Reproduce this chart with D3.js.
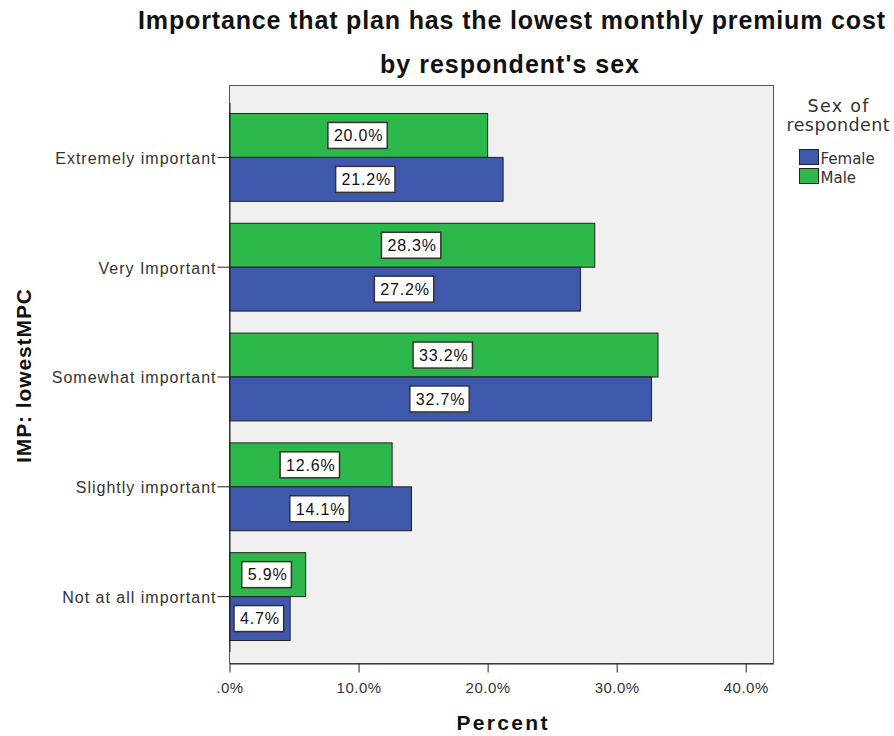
<!DOCTYPE html>
<html><head><meta charset="utf-8">
<script src="https://cdn.jsdelivr.net/npm/d3@7"></script>
<style>body{margin:0;background:#fff}</style>
</head><body>
<script>
const categories = ["Extremely important","Very Important","Somewhat important","Slightly important","Not at all important"];
const seriesNames = ["Male","Female"];
const maleValues = [20.0, 28.3, 33.2, 12.6, 5.9];
const femaleValues = [21.2, 27.2, 32.7, 14.1, 4.7];
const xTicks = [0, 10, 20, 30, 40];
const xTickLabels = [".0%","10.0%","20.0%","30.0%","40.0%"];
const legendItems = ["Female","Male"];

const W = 894, H = 736;
const FONT = "'Liberation Sans', Arial, sans-serif";
const LFONT = "'DejaVu Sans', Verdana, sans-serif";
const colors = {Female:"#3E58AC", Male:"#2DB84B"};
const svg = d3.select("body").append("svg").attr("width",W).attr("height",H)
  .style("font-family",FONT);

const L = 229.5, R = 773.5, T = 85.5, B = 663.5;
const x = d3.scaleLinear().domain([0, 42.15]).range([L, R]);
const y = d3.scaleBand().domain(categories).range([T+17, B-12]).paddingInner(0).paddingOuter(0);
const sub = d3.scaleBand().domain(seriesNames).range([0, y.bandwidth()]).paddingOuter(0.25).paddingInner(0);

svg.append("rect").attr("x",L).attr("y",T).attr("width",R-L).attr("height",B-T)
  .attr("fill","#F0F0F0").attr("stroke","#555").attr("stroke-width",1);

const data = [];
categories.forEach((c,i)=>{
  data.push({cat:c, s:"Male", v:maleValues[i]});
  data.push({cat:c, s:"Female", v:femaleValues[i]});
});

svg.append("g").selectAll("rect").data(data).join("rect")
  .attr("x", x(0)).attr("y", d=>y(d.cat)+sub(d.s))
  .attr("width", d=>x(d.v)-x(0)).attr("height", sub.bandwidth())
  .attr("fill", d=>colors[d.s]).attr("stroke","#222").attr("stroke-width",1);

const lab = svg.append("g").selectAll("g").data(data).join("g")
  .attr("transform", d=>`translate(${(x(0)+x(d.v))/2},${y(d.cat)+sub(d.s)+sub.bandwidth()/2})`);
lab.append("rect").attr("fill","#fff").attr("stroke","#333").attr("stroke-width",1.5);
const labText = lab.append("text").attr("text-anchor","middle").attr("dy","0.36em")
  .attr("font-size",16).attr("letter-spacing","0.8px").attr("fill","#111").text(d=>d.v.toFixed(1)+"%");
labText.each(function(d){
  const w = this.getComputedTextLength();
  d3.select(this.parentNode).select("rect")
    .attr("x",-w/2-6).attr("y",-13).attr("width",w+10).attr("height",26);
});

// y axis
const yAxis = d3.axisLeft(y).tickSize(12).tickSizeOuter(0);
const gy = svg.append("g").attr("transform",`translate(${L},0)`).call(yAxis);
gy.select(".domain").attr("stroke","#222");
gy.selectAll(".tick line").attr("stroke","#222");
gy.selectAll(".tick text").attr("font-size",16).attr("letter-spacing","1px").attr("fill","#333")
  .attr("x",-13).attr("dy","0.4em").style("font-family",FONT);

// x axis
const xAxis = d3.axisBottom(x).tickValues(xTicks).tickFormat((d,i)=>xTickLabels[i]).tickSize(9).tickSizeOuter(0);
const gx = svg.append("g").attr("transform",`translate(0,${B})`).call(xAxis);
gx.select(".domain").attr("stroke","#222");
gx.selectAll(".tick line").attr("stroke","#222");
gx.selectAll(".tick text").attr("font-size",15).attr("letter-spacing","0.5px").attr("fill","#333").attr("y",19)
  .style("font-family",FONT);

// titles
svg.append("text").attr("x",511.5).attr("y",29).attr("text-anchor","middle")
  .attr("font-size",25).attr("font-weight","bold").attr("fill","#111")
  .attr("textLength",747).attr("lengthAdjust","spacing")
  .text("Importance that plan has the lowest monthly premium cost");
svg.append("text").attr("x",509.5).attr("y",73).attr("text-anchor","middle")
  .attr("font-size",25).attr("font-weight","bold").attr("fill","#111")
  .attr("textLength",259).attr("lengthAdjust","spacing")
  .text("by respondent's sex");
svg.append("text").attr("x",502).attr("y",730).attr("text-anchor","middle")
  .attr("font-size",21).attr("font-weight","bold").attr("fill","#111")
  .attr("textLength",91).attr("lengthAdjust","spacing").text("Percent");
svg.append("text").attr("transform","translate(31,376) rotate(-90)").attr("text-anchor","middle")
  .attr("font-size",21).attr("font-weight","bold").attr("fill","#111")
  .attr("textLength",174).attr("lengthAdjust","spacing").text("IMP: lowestMPC");

// legend
const lg = svg.append("g").style("font-family",LFONT);
lg.append("text").attr("x",838).attr("y",112).attr("text-anchor","middle").attr("font-size",17.5)
  .attr("fill","#333").attr("textLength",61).attr("lengthAdjust","spacing").text("Sex of");
lg.append("text").attr("x",838).attr("y",131).attr("text-anchor","middle").attr("font-size",17.5)
  .attr("fill","#333").attr("textLength",103).attr("lengthAdjust","spacing").text("respondent");
const li = lg.selectAll("g").data(legendItems).join("g")
  .attr("transform",(d,i)=>`translate(799.5,${149.5+i*19})`);
li.append("rect").attr("width",19).attr("height",15).attr("fill",d=>colors[d]).attr("stroke","#222");
li.append("text").attr("x",21).attr("y",14.5).attr("font-size",15)
  .attr("fill","#333").text(d=>d);
</script>
</body></html>
